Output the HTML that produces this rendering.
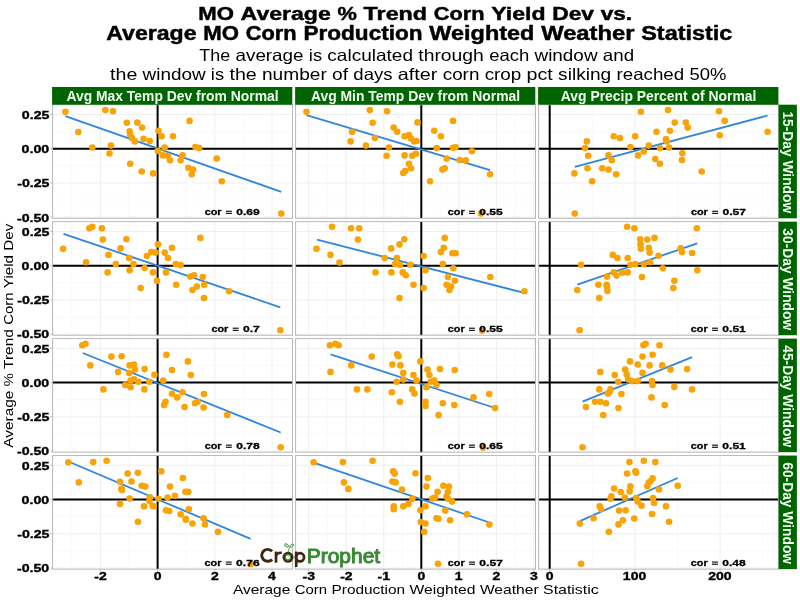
<!DOCTYPE html><html><head><meta charset="utf-8"><style>html,body{margin:0;padding:0;background:#fff;}svg{display:block;will-change:transform;}text{font-family:"Liberation Sans",sans-serif;}</style></head><body>
<svg width="800" height="600" viewBox="0 0 800 600">
<rect x="0" y="0" width="800" height="600" fill="#fff"/>
<g font-size="19.2" font-weight="bold" fill="#000" stroke="#000" stroke-width="0.45"><text x="198.23" y="19.70" textLength="35.67" lengthAdjust="spacingAndGlyphs">MO</text><text x="240.62" y="19.70" textLength="90.19" lengthAdjust="spacingAndGlyphs">Average</text><text x="337.55" y="19.70" textLength="19.37" lengthAdjust="spacingAndGlyphs">%</text><text x="363.64" y="19.70" textLength="63.43" lengthAdjust="spacingAndGlyphs">Trend</text><text x="433.80" y="19.70" textLength="50.76" lengthAdjust="spacingAndGlyphs">Corn</text><text x="491.29" y="19.70" textLength="54.20" lengthAdjust="spacingAndGlyphs">Yield</text><text x="552.22" y="19.70" textLength="41.76" lengthAdjust="spacingAndGlyphs">Dev</text><text x="600.70" y="19.70" textLength="31.45" lengthAdjust="spacingAndGlyphs">vs.</text></g>
<g font-size="19.4" font-weight="bold" fill="#000" stroke="#000" stroke-width="0.45"><text x="106.21" y="40.00" textLength="90.38" lengthAdjust="spacingAndGlyphs">Average</text><text x="203.33" y="40.00" textLength="35.74" lengthAdjust="spacingAndGlyphs">MO</text><text x="245.82" y="40.00" textLength="50.87" lengthAdjust="spacingAndGlyphs">Corn</text><text x="303.42" y="40.00" textLength="119.19" lengthAdjust="spacingAndGlyphs">Production</text><text x="429.36" y="40.00" textLength="105.06" lengthAdjust="spacingAndGlyphs">Weighted</text><text x="541.16" y="40.00" textLength="93.31" lengthAdjust="spacingAndGlyphs">Weather</text><text x="641.22" y="40.00" textLength="91.09" lengthAdjust="spacingAndGlyphs">Statistic</text></g>
<g font-size="16.5" fill="#000"><text x="199.35" y="61.30" textLength="30.89" lengthAdjust="spacingAndGlyphs">The</text><text x="235.52" y="61.30" textLength="68.00" lengthAdjust="spacingAndGlyphs">average</text><text x="308.80" y="61.30" textLength="13.27" lengthAdjust="spacingAndGlyphs">is</text><text x="327.35" y="61.30" textLength="85.65" lengthAdjust="spacingAndGlyphs">calculated</text><text x="418.28" y="61.30" textLength="65.63" lengthAdjust="spacingAndGlyphs">through</text><text x="489.19" y="61.30" textLength="40.06" lengthAdjust="spacingAndGlyphs">each</text><text x="534.53" y="61.30" textLength="63.02" lengthAdjust="spacingAndGlyphs">window</text><text x="602.82" y="61.30" textLength="31.25" lengthAdjust="spacingAndGlyphs">and</text></g>
<g font-size="16.5" fill="#000"><text x="110.05" y="79.50" textLength="27.26" lengthAdjust="spacingAndGlyphs">the</text><text x="142.59" y="79.50" textLength="63.02" lengthAdjust="spacingAndGlyphs">window</text><text x="210.89" y="79.50" textLength="13.27" lengthAdjust="spacingAndGlyphs">is</text><text x="229.44" y="79.50" textLength="27.26" lengthAdjust="spacingAndGlyphs">the</text><text x="261.98" y="79.50" textLength="64.83" lengthAdjust="spacingAndGlyphs">number</text><text x="332.08" y="79.50" textLength="16.01" lengthAdjust="spacingAndGlyphs">of</text><text x="353.37" y="79.50" textLength="39.21" lengthAdjust="spacingAndGlyphs">days</text><text x="397.86" y="79.50" textLength="39.59" lengthAdjust="spacingAndGlyphs">after</text><text x="442.72" y="79.50" textLength="36.65" lengthAdjust="spacingAndGlyphs">corn</text><text x="484.65" y="79.50" textLength="36.67" lengthAdjust="spacingAndGlyphs">crop</text><text x="526.60" y="79.50" textLength="26.19" lengthAdjust="spacingAndGlyphs">pct</text><text x="558.07" y="79.50" textLength="53.19" lengthAdjust="spacingAndGlyphs">silking</text><text x="616.54" y="79.50" textLength="67.65" lengthAdjust="spacingAndGlyphs">reached</text><text x="689.47" y="79.50" textLength="36.92" lengthAdjust="spacingAndGlyphs">50%</text></g>
<g><rect x="52.60" y="104.70" width="239.90" height="113.60" fill="#fff"/><line x1="52.60" x2="292.50" y1="131.57" y2="131.57" stroke="#f7f7f7" stroke-width="0.8"/><line x1="52.60" x2="292.50" y1="165.82" y2="165.82" stroke="#f7f7f7" stroke-width="0.8"/><line x1="52.60" x2="292.50" y1="200.07" y2="200.07" stroke="#f7f7f7" stroke-width="0.8"/><line x1="71.80" x2="71.80" y1="104.70" y2="218.30" stroke="#f7f7f7" stroke-width="0.8"/><line x1="129.00" x2="129.00" y1="104.70" y2="218.30" stroke="#f7f7f7" stroke-width="0.8"/><line x1="186.20" x2="186.20" y1="104.70" y2="218.30" stroke="#f7f7f7" stroke-width="0.8"/><line x1="243.40" x2="243.40" y1="104.70" y2="218.30" stroke="#f7f7f7" stroke-width="0.8"/><line x1="52.60" x2="292.50" y1="114.45" y2="114.45" stroke="#efefef" stroke-width="1"/><line x1="52.60" x2="292.50" y1="148.70" y2="148.70" stroke="#efefef" stroke-width="1"/><line x1="52.60" x2="292.50" y1="182.95" y2="182.95" stroke="#efefef" stroke-width="1"/><line x1="52.60" x2="292.50" y1="217.20" y2="217.20" stroke="#efefef" stroke-width="1"/><line x1="100.40" x2="100.40" y1="104.70" y2="218.30" stroke="#efefef" stroke-width="1"/><line x1="157.60" x2="157.60" y1="104.70" y2="218.30" stroke="#efefef" stroke-width="1"/><line x1="214.80" x2="214.80" y1="104.70" y2="218.30" stroke="#efefef" stroke-width="1"/><line x1="272.00" x2="272.00" y1="104.70" y2="218.30" stroke="#efefef" stroke-width="1"/><line x1="52.60" x2="292.50" y1="148.70" y2="148.70" stroke="#000" stroke-width="2"/><line x1="157.60" x2="157.60" y1="104.70" y2="218.30" stroke="#000" stroke-width="2"/><line x1="65.4" y1="116.1" x2="281.3" y2="191.8" stroke="#2f86dc" stroke-width="1.8"/><circle cx="65.4" cy="111.7" r="3.3" fill="#f8a306"/><circle cx="105.3" cy="110.1" r="3.3" fill="#f8a306"/><circle cx="113" cy="111.3" r="3.3" fill="#f8a306"/><circle cx="78.3" cy="132" r="3.3" fill="#f8a306"/><circle cx="92.3" cy="147.5" r="3.3" fill="#f8a306"/><circle cx="111" cy="145.6" r="3.3" fill="#f8a306"/><circle cx="109.5" cy="153.5" r="3.3" fill="#f8a306"/><circle cx="126.8" cy="122.8" r="3.3" fill="#f8a306"/><circle cx="137.3" cy="122.6" r="3.3" fill="#f8a306"/><circle cx="142.1" cy="127.6" r="3.3" fill="#f8a306"/><circle cx="129.6" cy="131.4" r="3.3" fill="#f8a306"/><circle cx="130.2" cy="134.7" r="3.3" fill="#f8a306"/><circle cx="132.1" cy="138.1" r="3.3" fill="#f8a306"/><circle cx="135" cy="141.4" r="3.3" fill="#f8a306"/><circle cx="143.6" cy="138.9" r="3.3" fill="#f8a306"/><circle cx="149.8" cy="141" r="3.3" fill="#f8a306"/><circle cx="158.4" cy="130.8" r="3.3" fill="#f8a306"/><circle cx="161.6" cy="136.2" r="3.3" fill="#f8a306"/><circle cx="164.7" cy="147.5" r="3.3" fill="#f8a306"/><circle cx="158" cy="151" r="3.3" fill="#f8a306"/><circle cx="162.8" cy="155.4" r="3.3" fill="#f8a306"/><circle cx="168" cy="156.1" r="3.3" fill="#f8a306"/><circle cx="170" cy="160.2" r="3.3" fill="#f8a306"/><circle cx="130.2" cy="163.8" r="3.3" fill="#f8a306"/><circle cx="141.7" cy="171.5" r="3.3" fill="#f8a306"/><circle cx="153.2" cy="173.4" r="3.3" fill="#f8a306"/><circle cx="173" cy="136.2" r="3.3" fill="#f8a306"/><circle cx="189.6" cy="120.9" r="3.3" fill="#f8a306"/><circle cx="195.4" cy="147.1" r="3.3" fill="#f8a306"/><circle cx="199.2" cy="148.1" r="3.3" fill="#f8a306"/><circle cx="182.5" cy="155.4" r="3.3" fill="#f8a306"/><circle cx="180.6" cy="160.2" r="3.3" fill="#f8a306"/><circle cx="188.3" cy="167.8" r="3.3" fill="#f8a306"/><circle cx="193.1" cy="169.6" r="3.3" fill="#f8a306"/><circle cx="191.7" cy="174.3" r="3.3" fill="#f8a306"/><circle cx="216.7" cy="158.6" r="3.3" fill="#f8a306"/><circle cx="221.8" cy="181.2" r="3.3" fill="#f8a306"/><circle cx="281.3" cy="213.6" r="3.3" fill="#f8a306"/><rect x="52.60" y="104.70" width="239.90" height="113.60" fill="none" stroke="#b8b8b8" stroke-width="1"/></g>
<g font-size="9.4" font-weight="bold" fill="#000" stroke="#000" stroke-width="0.3"><text x="204.68" y="215.30" textLength="16.90" lengthAdjust="spacingAndGlyphs">cor</text><rect x="225.90" y="210.71" width="5.97" height="1.09" stroke="none"/><rect x="225.90" y="212.82" width="5.97" height="1.10" stroke="none"/><text x="236.20" y="215.30" textLength="23.51" lengthAdjust="spacingAndGlyphs">0.69</text></g>
<g><rect x="295.60" y="104.70" width="239.90" height="113.60" fill="#fff"/><line x1="295.60" x2="535.50" y1="131.57" y2="131.57" stroke="#f7f7f7" stroke-width="0.8"/><line x1="295.60" x2="535.50" y1="165.82" y2="165.82" stroke="#f7f7f7" stroke-width="0.8"/><line x1="295.60" x2="535.50" y1="200.07" y2="200.07" stroke="#f7f7f7" stroke-width="0.8"/><line x1="327.43" x2="327.43" y1="104.70" y2="218.30" stroke="#f7f7f7" stroke-width="0.8"/><line x1="364.98" x2="364.98" y1="104.70" y2="218.30" stroke="#f7f7f7" stroke-width="0.8"/><line x1="402.53" x2="402.53" y1="104.70" y2="218.30" stroke="#f7f7f7" stroke-width="0.8"/><line x1="440.07" x2="440.07" y1="104.70" y2="218.30" stroke="#f7f7f7" stroke-width="0.8"/><line x1="477.62" x2="477.62" y1="104.70" y2="218.30" stroke="#f7f7f7" stroke-width="0.8"/><line x1="515.17" x2="515.17" y1="104.70" y2="218.30" stroke="#f7f7f7" stroke-width="0.8"/><line x1="295.60" x2="535.50" y1="114.45" y2="114.45" stroke="#efefef" stroke-width="1"/><line x1="295.60" x2="535.50" y1="148.70" y2="148.70" stroke="#efefef" stroke-width="1"/><line x1="295.60" x2="535.50" y1="182.95" y2="182.95" stroke="#efefef" stroke-width="1"/><line x1="295.60" x2="535.50" y1="217.20" y2="217.20" stroke="#efefef" stroke-width="1"/><line x1="308.65" x2="308.65" y1="104.70" y2="218.30" stroke="#efefef" stroke-width="1"/><line x1="346.20" x2="346.20" y1="104.70" y2="218.30" stroke="#efefef" stroke-width="1"/><line x1="383.75" x2="383.75" y1="104.70" y2="218.30" stroke="#efefef" stroke-width="1"/><line x1="421.30" x2="421.30" y1="104.70" y2="218.30" stroke="#efefef" stroke-width="1"/><line x1="458.85" x2="458.85" y1="104.70" y2="218.30" stroke="#efefef" stroke-width="1"/><line x1="496.40" x2="496.40" y1="104.70" y2="218.30" stroke="#efefef" stroke-width="1"/><line x1="533.95" x2="533.95" y1="104.70" y2="218.30" stroke="#efefef" stroke-width="1"/><line x1="295.60" x2="535.50" y1="148.70" y2="148.70" stroke="#000" stroke-width="2"/><line x1="421.30" x2="421.30" y1="104.70" y2="218.30" stroke="#000" stroke-width="2"/><line x1="306.5" y1="115.1" x2="490.1" y2="170.1" stroke="#2f86dc" stroke-width="1.8"/><circle cx="306.5" cy="111.7" r="3.3" fill="#f8a306"/><circle cx="369.8" cy="110.1" r="3.3" fill="#f8a306"/><circle cx="387" cy="111.3" r="3.3" fill="#f8a306"/><circle cx="372.6" cy="122.8" r="3.3" fill="#f8a306"/><circle cx="352.1" cy="131.8" r="3.3" fill="#f8a306"/><circle cx="350.6" cy="141.4" r="3.3" fill="#f8a306"/><circle cx="374.9" cy="138.1" r="3.3" fill="#f8a306"/><circle cx="365.9" cy="145.6" r="3.3" fill="#f8a306"/><circle cx="388.9" cy="147.5" r="3.3" fill="#f8a306"/><circle cx="386.6" cy="155.8" r="3.3" fill="#f8a306"/><circle cx="393.7" cy="127.6" r="3.3" fill="#f8a306"/><circle cx="397.2" cy="131.8" r="3.3" fill="#f8a306"/><circle cx="404.6" cy="136.2" r="3.3" fill="#f8a306"/><circle cx="409" cy="135" r="3.3" fill="#f8a306"/><circle cx="411" cy="138.5" r="3.3" fill="#f8a306"/><circle cx="414.2" cy="141.4" r="3.3" fill="#f8a306"/><circle cx="404.6" cy="155.4" r="3.3" fill="#f8a306"/><circle cx="412.3" cy="155.8" r="3.3" fill="#f8a306"/><circle cx="409" cy="163.8" r="3.3" fill="#f8a306"/><circle cx="411" cy="168.2" r="3.3" fill="#f8a306"/><circle cx="403.3" cy="173" r="3.3" fill="#f8a306"/><circle cx="405.2" cy="171" r="3.3" fill="#f8a306"/><circle cx="417.5" cy="122.4" r="3.3" fill="#f8a306"/><circle cx="416.5" cy="141" r="3.3" fill="#f8a306"/><circle cx="416" cy="153.8" r="3.3" fill="#f8a306"/><circle cx="453" cy="120.9" r="3.3" fill="#f8a306"/><circle cx="434.2" cy="130.8" r="3.3" fill="#f8a306"/><circle cx="440.9" cy="136.2" r="3.3" fill="#f8a306"/><circle cx="436.7" cy="148.1" r="3.3" fill="#f8a306"/><circle cx="453" cy="147.7" r="3.3" fill="#f8a306"/><circle cx="455.6" cy="147.3" r="3.3" fill="#f8a306"/><circle cx="471.9" cy="151.3" r="3.3" fill="#f8a306"/><circle cx="446.6" cy="158.6" r="3.3" fill="#f8a306"/><circle cx="459.7" cy="160" r="3.3" fill="#f8a306"/><circle cx="465.8" cy="160.2" r="3.3" fill="#f8a306"/><circle cx="444.7" cy="168.2" r="3.3" fill="#f8a306"/><circle cx="442.4" cy="169.6" r="3.3" fill="#f8a306"/><circle cx="490.1" cy="174.3" r="3.3" fill="#f8a306"/><circle cx="430" cy="181.2" r="3.3" fill="#f8a306"/><circle cx="481.1" cy="213.6" r="3.3" fill="#f8a306"/><rect x="295.60" y="104.70" width="239.90" height="113.60" fill="none" stroke="#b8b8b8" stroke-width="1"/></g>
<g font-size="9.4" font-weight="bold" fill="#000" stroke="#000" stroke-width="0.3"><text x="447.74" y="215.30" textLength="16.90" lengthAdjust="spacingAndGlyphs">cor</text><rect x="468.96" y="210.71" width="5.97" height="1.09" stroke="none"/><rect x="468.96" y="212.82" width="5.97" height="1.10" stroke="none"/><text x="479.25" y="215.30" textLength="23.51" lengthAdjust="spacingAndGlyphs">0.55</text></g>
<g><rect x="538.60" y="104.70" width="240.00" height="113.60" fill="#fff"/><line x1="538.60" x2="778.60" y1="131.57" y2="131.57" stroke="#f7f7f7" stroke-width="0.8"/><line x1="538.60" x2="778.60" y1="165.82" y2="165.82" stroke="#f7f7f7" stroke-width="0.8"/><line x1="538.60" x2="778.60" y1="200.07" y2="200.07" stroke="#f7f7f7" stroke-width="0.8"/><line x1="592.30" x2="592.30" y1="104.70" y2="218.30" stroke="#f7f7f7" stroke-width="0.8"/><line x1="677.50" x2="677.50" y1="104.70" y2="218.30" stroke="#f7f7f7" stroke-width="0.8"/><line x1="762.70" x2="762.70" y1="104.70" y2="218.30" stroke="#f7f7f7" stroke-width="0.8"/><line x1="538.60" x2="778.60" y1="114.45" y2="114.45" stroke="#efefef" stroke-width="1"/><line x1="538.60" x2="778.60" y1="148.70" y2="148.70" stroke="#efefef" stroke-width="1"/><line x1="538.60" x2="778.60" y1="182.95" y2="182.95" stroke="#efefef" stroke-width="1"/><line x1="538.60" x2="778.60" y1="217.20" y2="217.20" stroke="#efefef" stroke-width="1"/><line x1="549.70" x2="549.70" y1="104.70" y2="218.30" stroke="#efefef" stroke-width="1"/><line x1="634.90" x2="634.90" y1="104.70" y2="218.30" stroke="#efefef" stroke-width="1"/><line x1="720.10" x2="720.10" y1="104.70" y2="218.30" stroke="#efefef" stroke-width="1"/><line x1="538.60" x2="778.60" y1="148.70" y2="148.70" stroke="#000" stroke-width="2"/><line x1="549.70" x2="549.70" y1="104.70" y2="218.30" stroke="#000" stroke-width="2"/><line x1="574.8" y1="166.9" x2="767.6" y2="115.5" stroke="#2f86dc" stroke-width="1.8"/><circle cx="640.9" cy="111.7" r="3.3" fill="#f8a306"/><circle cx="656.5" cy="131.8" r="3.3" fill="#f8a306"/><circle cx="613.7" cy="136.2" r="3.3" fill="#f8a306"/><circle cx="620" cy="138.1" r="3.3" fill="#f8a306"/><circle cx="635.2" cy="136.2" r="3.3" fill="#f8a306"/><circle cx="586.9" cy="141.4" r="3.3" fill="#f8a306"/><circle cx="585" cy="148.1" r="3.3" fill="#f8a306"/><circle cx="630.4" cy="147.1" r="3.3" fill="#f8a306"/><circle cx="648.8" cy="145.6" r="3.3" fill="#f8a306"/><circle cx="588.2" cy="155.8" r="3.3" fill="#f8a306"/><circle cx="608.5" cy="155.4" r="3.3" fill="#f8a306"/><circle cx="611.8" cy="160.2" r="3.3" fill="#f8a306"/><circle cx="638.1" cy="155.4" r="3.3" fill="#f8a306"/><circle cx="643.8" cy="151.5" r="3.3" fill="#f8a306"/><circle cx="655.3" cy="159" r="3.3" fill="#f8a306"/><circle cx="659.9" cy="163.8" r="3.3" fill="#f8a306"/><circle cx="587.5" cy="168.2" r="3.3" fill="#f8a306"/><circle cx="602.2" cy="168.2" r="3.3" fill="#f8a306"/><circle cx="608.5" cy="169.6" r="3.3" fill="#f8a306"/><circle cx="574.4" cy="173.4" r="3.3" fill="#f8a306"/><circle cx="616.2" cy="174.3" r="3.3" fill="#f8a306"/><circle cx="592.1" cy="181.2" r="3.3" fill="#f8a306"/><circle cx="574.8" cy="213.6" r="3.3" fill="#f8a306"/><circle cx="659.9" cy="148.1" r="3.3" fill="#f8a306"/><circle cx="668" cy="110.1" r="3.3" fill="#f8a306"/><circle cx="719" cy="111.3" r="3.3" fill="#f8a306"/><circle cx="674.7" cy="122.6" r="3.3" fill="#f8a306"/><circle cx="685.8" cy="122.6" r="3.3" fill="#f8a306"/><circle cx="687.7" cy="127.6" r="3.3" fill="#f8a306"/><circle cx="724.7" cy="120.9" r="3.3" fill="#f8a306"/><circle cx="669.9" cy="130.8" r="3.3" fill="#f8a306"/><circle cx="767.6" cy="131.8" r="3.3" fill="#f8a306"/><circle cx="719.7" cy="135.2" r="3.3" fill="#f8a306"/><circle cx="666" cy="139.1" r="3.3" fill="#f8a306"/><circle cx="666.6" cy="141.4" r="3.3" fill="#f8a306"/><circle cx="669.1" cy="147.5" r="3.3" fill="#f8a306"/><circle cx="682.3" cy="153.3" r="3.3" fill="#f8a306"/><circle cx="682" cy="160" r="3.3" fill="#f8a306"/><circle cx="701.7" cy="171.5" r="3.3" fill="#f8a306"/><rect x="538.60" y="104.70" width="240.00" height="113.60" fill="none" stroke="#b8b8b8" stroke-width="1"/></g>
<g font-size="9.4" font-weight="bold" fill="#000" stroke="#000" stroke-width="0.3"><text x="690.93" y="215.30" textLength="16.90" lengthAdjust="spacingAndGlyphs">cor</text><rect x="712.15" y="210.71" width="5.97" height="1.09" stroke="none"/><rect x="712.15" y="212.82" width="5.97" height="1.10" stroke="none"/><text x="722.45" y="215.30" textLength="23.51" lengthAdjust="spacingAndGlyphs">0.57</text></g>
<g><rect x="52.60" y="221.65" width="239.90" height="113.60" fill="#fff"/><line x1="52.60" x2="292.50" y1="248.52" y2="248.52" stroke="#f7f7f7" stroke-width="0.8"/><line x1="52.60" x2="292.50" y1="282.77" y2="282.77" stroke="#f7f7f7" stroke-width="0.8"/><line x1="52.60" x2="292.50" y1="317.02" y2="317.02" stroke="#f7f7f7" stroke-width="0.8"/><line x1="71.80" x2="71.80" y1="221.65" y2="335.25" stroke="#f7f7f7" stroke-width="0.8"/><line x1="129.00" x2="129.00" y1="221.65" y2="335.25" stroke="#f7f7f7" stroke-width="0.8"/><line x1="186.20" x2="186.20" y1="221.65" y2="335.25" stroke="#f7f7f7" stroke-width="0.8"/><line x1="243.40" x2="243.40" y1="221.65" y2="335.25" stroke="#f7f7f7" stroke-width="0.8"/><line x1="52.60" x2="292.50" y1="231.40" y2="231.40" stroke="#efefef" stroke-width="1"/><line x1="52.60" x2="292.50" y1="265.65" y2="265.65" stroke="#efefef" stroke-width="1"/><line x1="52.60" x2="292.50" y1="299.90" y2="299.90" stroke="#efefef" stroke-width="1"/><line x1="52.60" x2="292.50" y1="334.15" y2="334.15" stroke="#efefef" stroke-width="1"/><line x1="100.40" x2="100.40" y1="221.65" y2="335.25" stroke="#efefef" stroke-width="1"/><line x1="157.60" x2="157.60" y1="221.65" y2="335.25" stroke="#efefef" stroke-width="1"/><line x1="214.80" x2="214.80" y1="221.65" y2="335.25" stroke="#efefef" stroke-width="1"/><line x1="272.00" x2="272.00" y1="221.65" y2="335.25" stroke="#efefef" stroke-width="1"/><line x1="52.60" x2="292.50" y1="265.65" y2="265.65" stroke="#000" stroke-width="2"/><line x1="157.60" x2="157.60" y1="221.65" y2="335.25" stroke="#000" stroke-width="2"/><line x1="63.5" y1="233.8" x2="280.3" y2="307.3" stroke="#2f86dc" stroke-width="1.8"/><circle cx="89.4" cy="228.3" r="3.3" fill="#f8a306"/><circle cx="92.3" cy="226.8" r="3.3" fill="#f8a306"/><circle cx="101.8" cy="228.3" r="3.3" fill="#f8a306"/><circle cx="63.1" cy="248.8" r="3.3" fill="#f8a306"/><circle cx="86.1" cy="262.2" r="3.3" fill="#f8a306"/><circle cx="102.8" cy="239.6" r="3.3" fill="#f8a306"/><circle cx="126.4" cy="239.2" r="3.3" fill="#f8a306"/><circle cx="120.6" cy="248.4" r="3.3" fill="#f8a306"/><circle cx="108.5" cy="254.9" r="3.3" fill="#f8a306"/><circle cx="129.1" cy="258" r="3.3" fill="#f8a306"/><circle cx="115.8" cy="264.1" r="3.3" fill="#f8a306"/><circle cx="133.5" cy="264.1" r="3.3" fill="#f8a306"/><circle cx="129.6" cy="270.3" r="3.3" fill="#f8a306"/><circle cx="107.6" cy="272.4" r="3.3" fill="#f8a306"/><circle cx="144.6" cy="268" r="3.3" fill="#f8a306"/><circle cx="146.9" cy="256.1" r="3.3" fill="#f8a306"/><circle cx="151.3" cy="252.1" r="3.3" fill="#f8a306"/><circle cx="155.5" cy="252.6" r="3.3" fill="#f8a306"/><circle cx="158" cy="244.4" r="3.3" fill="#f8a306"/><circle cx="164.7" cy="252.6" r="3.3" fill="#f8a306"/><circle cx="168" cy="258" r="3.3" fill="#f8a306"/><circle cx="172" cy="247.8" r="3.3" fill="#f8a306"/><circle cx="153" cy="272.4" r="3.3" fill="#f8a306"/><circle cx="166" cy="272.4" r="3.3" fill="#f8a306"/><circle cx="157" cy="280.8" r="3.3" fill="#f8a306"/><circle cx="140.7" cy="288.1" r="3.3" fill="#f8a306"/><circle cx="200.4" cy="237.9" r="3.3" fill="#f8a306"/><circle cx="175.8" cy="264.1" r="3.3" fill="#f8a306"/><circle cx="180.6" cy="265.1" r="3.3" fill="#f8a306"/><circle cx="190.2" cy="276.6" r="3.3" fill="#f8a306"/><circle cx="194" cy="275.2" r="3.3" fill="#f8a306"/><circle cx="202.7" cy="277" r="3.3" fill="#f8a306"/><circle cx="176.2" cy="284.8" r="3.3" fill="#f8a306"/><circle cx="196.9" cy="286.6" r="3.3" fill="#f8a306"/><circle cx="192.5" cy="290" r="3.3" fill="#f8a306"/><circle cx="204.2" cy="284.8" r="3.3" fill="#f8a306"/><circle cx="229.1" cy="291.3" r="3.3" fill="#f8a306"/><circle cx="204" cy="298.1" r="3.3" fill="#f8a306"/><circle cx="280.3" cy="330.3" r="3.3" fill="#f8a306"/><rect x="52.60" y="221.65" width="239.90" height="113.60" fill="none" stroke="#b8b8b8" stroke-width="1"/></g>
<g font-size="9.4" font-weight="bold" fill="#000" stroke="#000" stroke-width="0.3"><text x="211.46" y="332.25" textLength="16.90" lengthAdjust="spacingAndGlyphs">cor</text><rect x="232.68" y="327.66" width="5.97" height="1.09" stroke="none"/><rect x="232.68" y="329.77" width="5.97" height="1.10" stroke="none"/><text x="242.98" y="332.25" textLength="16.88" lengthAdjust="spacingAndGlyphs">0.7</text></g>
<g><rect x="295.60" y="221.65" width="239.90" height="113.60" fill="#fff"/><line x1="295.60" x2="535.50" y1="248.52" y2="248.52" stroke="#f7f7f7" stroke-width="0.8"/><line x1="295.60" x2="535.50" y1="282.77" y2="282.77" stroke="#f7f7f7" stroke-width="0.8"/><line x1="295.60" x2="535.50" y1="317.02" y2="317.02" stroke="#f7f7f7" stroke-width="0.8"/><line x1="327.43" x2="327.43" y1="221.65" y2="335.25" stroke="#f7f7f7" stroke-width="0.8"/><line x1="364.98" x2="364.98" y1="221.65" y2="335.25" stroke="#f7f7f7" stroke-width="0.8"/><line x1="402.53" x2="402.53" y1="221.65" y2="335.25" stroke="#f7f7f7" stroke-width="0.8"/><line x1="440.07" x2="440.07" y1="221.65" y2="335.25" stroke="#f7f7f7" stroke-width="0.8"/><line x1="477.62" x2="477.62" y1="221.65" y2="335.25" stroke="#f7f7f7" stroke-width="0.8"/><line x1="515.17" x2="515.17" y1="221.65" y2="335.25" stroke="#f7f7f7" stroke-width="0.8"/><line x1="295.60" x2="535.50" y1="231.40" y2="231.40" stroke="#efefef" stroke-width="1"/><line x1="295.60" x2="535.50" y1="265.65" y2="265.65" stroke="#efefef" stroke-width="1"/><line x1="295.60" x2="535.50" y1="299.90" y2="299.90" stroke="#efefef" stroke-width="1"/><line x1="295.60" x2="535.50" y1="334.15" y2="334.15" stroke="#efefef" stroke-width="1"/><line x1="308.65" x2="308.65" y1="221.65" y2="335.25" stroke="#efefef" stroke-width="1"/><line x1="346.20" x2="346.20" y1="221.65" y2="335.25" stroke="#efefef" stroke-width="1"/><line x1="383.75" x2="383.75" y1="221.65" y2="335.25" stroke="#efefef" stroke-width="1"/><line x1="421.30" x2="421.30" y1="221.65" y2="335.25" stroke="#efefef" stroke-width="1"/><line x1="458.85" x2="458.85" y1="221.65" y2="335.25" stroke="#efefef" stroke-width="1"/><line x1="496.40" x2="496.40" y1="221.65" y2="335.25" stroke="#efefef" stroke-width="1"/><line x1="533.95" x2="533.95" y1="221.65" y2="335.25" stroke="#efefef" stroke-width="1"/><line x1="295.60" x2="535.50" y1="265.65" y2="265.65" stroke="#000" stroke-width="2"/><line x1="421.30" x2="421.30" y1="221.65" y2="335.25" stroke="#000" stroke-width="2"/><line x1="317" y1="239.6" x2="524.3" y2="292.9" stroke="#2f86dc" stroke-width="1.8"/><circle cx="332" cy="226.8" r="3.3" fill="#f8a306"/><circle cx="351" cy="228.3" r="3.3" fill="#f8a306"/><circle cx="359.2" cy="228.3" r="3.3" fill="#f8a306"/><circle cx="357.9" cy="239.6" r="3.3" fill="#f8a306"/><circle cx="316.5" cy="248.8" r="3.3" fill="#f8a306"/><circle cx="330.5" cy="254.9" r="3.3" fill="#f8a306"/><circle cx="339.5" cy="262.6" r="3.3" fill="#f8a306"/><circle cx="375.5" cy="272.4" r="3.3" fill="#f8a306"/><circle cx="384.7" cy="258" r="3.3" fill="#f8a306"/><circle cx="391.2" cy="248.4" r="3.3" fill="#f8a306"/><circle cx="399.5" cy="244.4" r="3.3" fill="#f8a306"/><circle cx="404.3" cy="239.2" r="3.3" fill="#f8a306"/><circle cx="397" cy="258" r="3.3" fill="#f8a306"/><circle cx="395.1" cy="264.1" r="3.3" fill="#f8a306"/><circle cx="400" cy="264.7" r="3.3" fill="#f8a306"/><circle cx="410.4" cy="264.7" r="3.3" fill="#f8a306"/><circle cx="391.4" cy="272.4" r="3.3" fill="#f8a306"/><circle cx="402.7" cy="272.4" r="3.3" fill="#f8a306"/><circle cx="405.8" cy="275.2" r="3.3" fill="#f8a306"/><circle cx="413.5" cy="284.8" r="3.3" fill="#f8a306"/><circle cx="399.5" cy="298.1" r="3.3" fill="#f8a306"/><circle cx="444.7" cy="237.9" r="3.3" fill="#f8a306"/><circle cx="443.8" cy="247.8" r="3.3" fill="#f8a306"/><circle cx="440.9" cy="252.1" r="3.3" fill="#f8a306"/><circle cx="452.4" cy="253.2" r="3.3" fill="#f8a306"/><circle cx="455.6" cy="253.2" r="3.3" fill="#f8a306"/><circle cx="423.6" cy="256.1" r="3.3" fill="#f8a306"/><circle cx="442.8" cy="264.1" r="3.3" fill="#f8a306"/><circle cx="453.3" cy="268.3" r="3.3" fill="#f8a306"/><circle cx="425.5" cy="270.3" r="3.3" fill="#f8a306"/><circle cx="448" cy="277" r="3.3" fill="#f8a306"/><circle cx="454.9" cy="280.8" r="3.3" fill="#f8a306"/><circle cx="446.6" cy="284.8" r="3.3" fill="#f8a306"/><circle cx="451" cy="286.6" r="3.3" fill="#f8a306"/><circle cx="449.5" cy="290" r="3.3" fill="#f8a306"/><circle cx="423.6" cy="288.1" r="3.3" fill="#f8a306"/><circle cx="490.3" cy="277" r="3.3" fill="#f8a306"/><circle cx="524.3" cy="291.3" r="3.3" fill="#f8a306"/><circle cx="482.1" cy="330.6" r="3.3" fill="#f8a306"/><rect x="295.60" y="221.65" width="239.90" height="113.60" fill="none" stroke="#b8b8b8" stroke-width="1"/></g>
<g font-size="9.4" font-weight="bold" fill="#000" stroke="#000" stroke-width="0.3"><text x="447.74" y="332.25" textLength="16.90" lengthAdjust="spacingAndGlyphs">cor</text><rect x="468.96" y="327.66" width="5.97" height="1.09" stroke="none"/><rect x="468.96" y="329.77" width="5.97" height="1.10" stroke="none"/><text x="479.25" y="332.25" textLength="23.51" lengthAdjust="spacingAndGlyphs">0.55</text></g>
<g><rect x="538.60" y="221.65" width="240.00" height="113.60" fill="#fff"/><line x1="538.60" x2="778.60" y1="248.52" y2="248.52" stroke="#f7f7f7" stroke-width="0.8"/><line x1="538.60" x2="778.60" y1="282.77" y2="282.77" stroke="#f7f7f7" stroke-width="0.8"/><line x1="538.60" x2="778.60" y1="317.02" y2="317.02" stroke="#f7f7f7" stroke-width="0.8"/><line x1="592.30" x2="592.30" y1="221.65" y2="335.25" stroke="#f7f7f7" stroke-width="0.8"/><line x1="677.50" x2="677.50" y1="221.65" y2="335.25" stroke="#f7f7f7" stroke-width="0.8"/><line x1="762.70" x2="762.70" y1="221.65" y2="335.25" stroke="#f7f7f7" stroke-width="0.8"/><line x1="538.60" x2="778.60" y1="231.40" y2="231.40" stroke="#efefef" stroke-width="1"/><line x1="538.60" x2="778.60" y1="265.65" y2="265.65" stroke="#efefef" stroke-width="1"/><line x1="538.60" x2="778.60" y1="299.90" y2="299.90" stroke="#efefef" stroke-width="1"/><line x1="538.60" x2="778.60" y1="334.15" y2="334.15" stroke="#efefef" stroke-width="1"/><line x1="549.70" x2="549.70" y1="221.65" y2="335.25" stroke="#efefef" stroke-width="1"/><line x1="634.90" x2="634.90" y1="221.65" y2="335.25" stroke="#efefef" stroke-width="1"/><line x1="720.10" x2="720.10" y1="221.65" y2="335.25" stroke="#efefef" stroke-width="1"/><line x1="538.60" x2="778.60" y1="265.65" y2="265.65" stroke="#000" stroke-width="2"/><line x1="549.70" x2="549.70" y1="221.65" y2="335.25" stroke="#000" stroke-width="2"/><line x1="577.3" y1="284.6" x2="697.3" y2="243.4" stroke="#2f86dc" stroke-width="1.8"/><circle cx="627.1" cy="226.8" r="3.3" fill="#f8a306"/><circle cx="634.4" cy="228.3" r="3.3" fill="#f8a306"/><circle cx="640.2" cy="239.2" r="3.3" fill="#f8a306"/><circle cx="647.3" cy="239.6" r="3.3" fill="#f8a306"/><circle cx="654.5" cy="237.9" r="3.3" fill="#f8a306"/><circle cx="640.5" cy="244.4" r="3.3" fill="#f8a306"/><circle cx="640.9" cy="248.8" r="3.3" fill="#f8a306"/><circle cx="648.8" cy="247.8" r="3.3" fill="#f8a306"/><circle cx="649.6" cy="252.6" r="3.3" fill="#f8a306"/><circle cx="658.5" cy="255.8" r="3.3" fill="#f8a306"/><circle cx="612.8" cy="254.9" r="3.3" fill="#f8a306"/><circle cx="617.5" cy="258" r="3.3" fill="#f8a306"/><circle cx="627.7" cy="258" r="3.3" fill="#f8a306"/><circle cx="581.1" cy="264.7" r="3.3" fill="#f8a306"/><circle cx="630.6" cy="264.7" r="3.3" fill="#f8a306"/><circle cx="635.4" cy="264.1" r="3.3" fill="#f8a306"/><circle cx="643.8" cy="264.1" r="3.3" fill="#f8a306"/><circle cx="650.1" cy="262.2" r="3.3" fill="#f8a306"/><circle cx="613.7" cy="272.4" r="3.3" fill="#f8a306"/><circle cx="616.6" cy="275.6" r="3.3" fill="#f8a306"/><circle cx="622.3" cy="272.8" r="3.3" fill="#f8a306"/><circle cx="627.7" cy="272.4" r="3.3" fill="#f8a306"/><circle cx="607" cy="276.6" r="3.3" fill="#f8a306"/><circle cx="641.9" cy="277" r="3.3" fill="#f8a306"/><circle cx="598.4" cy="284.8" r="3.3" fill="#f8a306"/><circle cx="606.6" cy="284.8" r="3.3" fill="#f8a306"/><circle cx="607" cy="286.6" r="3.3" fill="#f8a306"/><circle cx="607.4" cy="291" r="3.3" fill="#f8a306"/><circle cx="577.3" cy="290" r="3.3" fill="#f8a306"/><circle cx="599.3" cy="298.1" r="3.3" fill="#f8a306"/><circle cx="579.6" cy="330.3" r="3.3" fill="#f8a306"/><circle cx="696.9" cy="228.3" r="3.3" fill="#f8a306"/><circle cx="680.6" cy="248.4" r="3.3" fill="#f8a306"/><circle cx="682" cy="252.1" r="3.3" fill="#f8a306"/><circle cx="692.1" cy="253" r="3.3" fill="#f8a306"/><circle cx="662.8" cy="268.3" r="3.3" fill="#f8a306"/><circle cx="697.3" cy="270.3" r="3.3" fill="#f8a306"/><circle cx="674.3" cy="280.8" r="3.3" fill="#f8a306"/><circle cx="673.3" cy="288.1" r="3.3" fill="#f8a306"/><rect x="538.60" y="221.65" width="240.00" height="113.60" fill="none" stroke="#b8b8b8" stroke-width="1"/></g>
<g font-size="9.4" font-weight="bold" fill="#000" stroke="#000" stroke-width="0.3"><text x="690.83" y="332.25" textLength="16.90" lengthAdjust="spacingAndGlyphs">cor</text><rect x="712.05" y="327.66" width="5.97" height="1.09" stroke="none"/><rect x="712.05" y="329.77" width="5.97" height="1.10" stroke="none"/><text x="722.34" y="332.25" textLength="23.51" lengthAdjust="spacingAndGlyphs">0.51</text></g>
<g><rect x="52.60" y="338.60" width="239.90" height="113.60" fill="#fff"/><line x1="52.60" x2="292.50" y1="365.47" y2="365.47" stroke="#f7f7f7" stroke-width="0.8"/><line x1="52.60" x2="292.50" y1="399.72" y2="399.72" stroke="#f7f7f7" stroke-width="0.8"/><line x1="52.60" x2="292.50" y1="433.97" y2="433.97" stroke="#f7f7f7" stroke-width="0.8"/><line x1="71.80" x2="71.80" y1="338.60" y2="452.20" stroke="#f7f7f7" stroke-width="0.8"/><line x1="129.00" x2="129.00" y1="338.60" y2="452.20" stroke="#f7f7f7" stroke-width="0.8"/><line x1="186.20" x2="186.20" y1="338.60" y2="452.20" stroke="#f7f7f7" stroke-width="0.8"/><line x1="243.40" x2="243.40" y1="338.60" y2="452.20" stroke="#f7f7f7" stroke-width="0.8"/><line x1="52.60" x2="292.50" y1="348.35" y2="348.35" stroke="#efefef" stroke-width="1"/><line x1="52.60" x2="292.50" y1="382.60" y2="382.60" stroke="#efefef" stroke-width="1"/><line x1="52.60" x2="292.50" y1="416.85" y2="416.85" stroke="#efefef" stroke-width="1"/><line x1="52.60" x2="292.50" y1="451.10" y2="451.10" stroke="#efefef" stroke-width="1"/><line x1="100.40" x2="100.40" y1="338.60" y2="452.20" stroke="#efefef" stroke-width="1"/><line x1="157.60" x2="157.60" y1="338.60" y2="452.20" stroke="#efefef" stroke-width="1"/><line x1="214.80" x2="214.80" y1="338.60" y2="452.20" stroke="#efefef" stroke-width="1"/><line x1="272.00" x2="272.00" y1="338.60" y2="452.20" stroke="#efefef" stroke-width="1"/><line x1="52.60" x2="292.50" y1="382.60" y2="382.60" stroke="#000" stroke-width="2"/><line x1="157.60" x2="157.60" y1="338.60" y2="452.20" stroke="#000" stroke-width="2"/><line x1="82.7" y1="353" x2="280.7" y2="432.5" stroke="#2f86dc" stroke-width="1.8"/><circle cx="82.3" cy="345.3" r="3.3" fill="#f8a306"/><circle cx="85.5" cy="343.8" r="3.3" fill="#f8a306"/><circle cx="111.4" cy="356.6" r="3.3" fill="#f8a306"/><circle cx="121.6" cy="356.2" r="3.3" fill="#f8a306"/><circle cx="90.3" cy="365.4" r="3.3" fill="#f8a306"/><circle cx="129.6" cy="365.4" r="3.3" fill="#f8a306"/><circle cx="134" cy="364.5" r="3.3" fill="#f8a306"/><circle cx="135" cy="369.6" r="3.3" fill="#f8a306"/><circle cx="144.6" cy="369.1" r="3.3" fill="#f8a306"/><circle cx="118.1" cy="371.9" r="3.3" fill="#f8a306"/><circle cx="129.2" cy="373.1" r="3.3" fill="#f8a306"/><circle cx="154.5" cy="374.8" r="3.3" fill="#f8a306"/><circle cx="130.6" cy="380.6" r="3.3" fill="#f8a306"/><circle cx="134" cy="379.2" r="3.3" fill="#f8a306"/><circle cx="138.3" cy="381.7" r="3.3" fill="#f8a306"/><circle cx="149.4" cy="381.7" r="3.3" fill="#f8a306"/><circle cx="125.2" cy="385" r="3.3" fill="#f8a306"/><circle cx="130.6" cy="387.3" r="3.3" fill="#f8a306"/><circle cx="103.4" cy="389.4" r="3.3" fill="#f8a306"/><circle cx="144.4" cy="389.4" r="3.3" fill="#f8a306"/><circle cx="163.2" cy="380.6" r="3.3" fill="#f8a306"/><circle cx="166.4" cy="354.9" r="3.3" fill="#f8a306"/><circle cx="172" cy="370" r="3.3" fill="#f8a306"/><circle cx="172" cy="393.8" r="3.3" fill="#f8a306"/><circle cx="165.5" cy="401.8" r="3.3" fill="#f8a306"/><circle cx="164.1" cy="405.1" r="3.3" fill="#f8a306"/><circle cx="187.9" cy="361.4" r="3.3" fill="#f8a306"/><circle cx="190.8" cy="375" r="3.3" fill="#f8a306"/><circle cx="177.2" cy="397.4" r="3.3" fill="#f8a306"/><circle cx="182.5" cy="392.2" r="3.3" fill="#f8a306"/><circle cx="204" cy="394" r="3.3" fill="#f8a306"/><circle cx="184.5" cy="407" r="3.3" fill="#f8a306"/><circle cx="195" cy="403.2" r="3.3" fill="#f8a306"/><circle cx="197.5" cy="401.8" r="3.3" fill="#f8a306"/><circle cx="203.6" cy="407.6" r="3.3" fill="#f8a306"/><circle cx="227.2" cy="415.1" r="3.3" fill="#f8a306"/><circle cx="280.7" cy="447.3" r="3.3" fill="#f8a306"/><rect x="52.60" y="338.60" width="239.90" height="113.60" fill="none" stroke="#b8b8b8" stroke-width="1"/></g>
<g font-size="9.4" font-weight="bold" fill="#000" stroke="#000" stroke-width="0.3"><text x="204.66" y="449.20" textLength="16.90" lengthAdjust="spacingAndGlyphs">cor</text><rect x="225.88" y="444.61" width="5.97" height="1.09" stroke="none"/><rect x="225.88" y="446.72" width="5.97" height="1.10" stroke="none"/><text x="236.18" y="449.20" textLength="23.51" lengthAdjust="spacingAndGlyphs">0.78</text></g>
<g><rect x="295.60" y="338.60" width="239.90" height="113.60" fill="#fff"/><line x1="295.60" x2="535.50" y1="365.47" y2="365.47" stroke="#f7f7f7" stroke-width="0.8"/><line x1="295.60" x2="535.50" y1="399.72" y2="399.72" stroke="#f7f7f7" stroke-width="0.8"/><line x1="295.60" x2="535.50" y1="433.97" y2="433.97" stroke="#f7f7f7" stroke-width="0.8"/><line x1="327.43" x2="327.43" y1="338.60" y2="452.20" stroke="#f7f7f7" stroke-width="0.8"/><line x1="364.98" x2="364.98" y1="338.60" y2="452.20" stroke="#f7f7f7" stroke-width="0.8"/><line x1="402.53" x2="402.53" y1="338.60" y2="452.20" stroke="#f7f7f7" stroke-width="0.8"/><line x1="440.07" x2="440.07" y1="338.60" y2="452.20" stroke="#f7f7f7" stroke-width="0.8"/><line x1="477.62" x2="477.62" y1="338.60" y2="452.20" stroke="#f7f7f7" stroke-width="0.8"/><line x1="515.17" x2="515.17" y1="338.60" y2="452.20" stroke="#f7f7f7" stroke-width="0.8"/><line x1="295.60" x2="535.50" y1="348.35" y2="348.35" stroke="#efefef" stroke-width="1"/><line x1="295.60" x2="535.50" y1="382.60" y2="382.60" stroke="#efefef" stroke-width="1"/><line x1="295.60" x2="535.50" y1="416.85" y2="416.85" stroke="#efefef" stroke-width="1"/><line x1="295.60" x2="535.50" y1="451.10" y2="451.10" stroke="#efefef" stroke-width="1"/><line x1="308.65" x2="308.65" y1="338.60" y2="452.20" stroke="#efefef" stroke-width="1"/><line x1="346.20" x2="346.20" y1="338.60" y2="452.20" stroke="#efefef" stroke-width="1"/><line x1="383.75" x2="383.75" y1="338.60" y2="452.20" stroke="#efefef" stroke-width="1"/><line x1="421.30" x2="421.30" y1="338.60" y2="452.20" stroke="#efefef" stroke-width="1"/><line x1="458.85" x2="458.85" y1="338.60" y2="452.20" stroke="#efefef" stroke-width="1"/><line x1="496.40" x2="496.40" y1="338.60" y2="452.20" stroke="#efefef" stroke-width="1"/><line x1="533.95" x2="533.95" y1="338.60" y2="452.20" stroke="#efefef" stroke-width="1"/><line x1="295.60" x2="535.50" y1="382.60" y2="382.60" stroke="#000" stroke-width="2"/><line x1="421.30" x2="421.30" y1="338.60" y2="452.20" stroke="#000" stroke-width="2"/><line x1="330.5" y1="354.3" x2="495.1" y2="408" stroke="#2f86dc" stroke-width="1.8"/><circle cx="329.9" cy="345.3" r="3.3" fill="#f8a306"/><circle cx="335.3" cy="343.8" r="3.3" fill="#f8a306"/><circle cx="338.7" cy="345.3" r="3.3" fill="#f8a306"/><circle cx="371.7" cy="356.6" r="3.3" fill="#f8a306"/><circle cx="397.2" cy="354.3" r="3.3" fill="#f8a306"/><circle cx="398.5" cy="356.2" r="3.3" fill="#f8a306"/><circle cx="351.2" cy="365.4" r="3.3" fill="#f8a306"/><circle cx="392.4" cy="364.5" r="3.3" fill="#f8a306"/><circle cx="400.4" cy="365.4" r="3.3" fill="#f8a306"/><circle cx="330.5" cy="371.9" r="3.3" fill="#f8a306"/><circle cx="403.3" cy="372.9" r="3.3" fill="#f8a306"/><circle cx="413.5" cy="375" r="3.3" fill="#f8a306"/><circle cx="403.3" cy="379.6" r="3.3" fill="#f8a306"/><circle cx="396.6" cy="381.7" r="3.3" fill="#f8a306"/><circle cx="356.9" cy="389.4" r="3.3" fill="#f8a306"/><circle cx="367.3" cy="389.4" r="3.3" fill="#f8a306"/><circle cx="391.8" cy="392.2" r="3.3" fill="#f8a306"/><circle cx="412.3" cy="389.4" r="3.3" fill="#f8a306"/><circle cx="414.5" cy="393.6" r="3.3" fill="#f8a306"/><circle cx="399.9" cy="401.8" r="3.3" fill="#f8a306"/><circle cx="420.4" cy="361.4" r="3.3" fill="#f8a306"/><circle cx="427.5" cy="369.6" r="3.3" fill="#f8a306"/><circle cx="439.9" cy="369.1" r="3.3" fill="#f8a306"/><circle cx="454.7" cy="370" r="3.3" fill="#f8a306"/><circle cx="429.4" cy="375" r="3.3" fill="#f8a306"/><circle cx="416.5" cy="380.6" r="3.3" fill="#f8a306"/><circle cx="430.7" cy="381.7" r="3.3" fill="#f8a306"/><circle cx="434.2" cy="380.6" r="3.3" fill="#f8a306"/><circle cx="436.5" cy="385" r="3.3" fill="#f8a306"/><circle cx="426.5" cy="387.3" r="3.3" fill="#f8a306"/><circle cx="425.5" cy="401.8" r="3.3" fill="#f8a306"/><circle cx="425.5" cy="406" r="3.3" fill="#f8a306"/><circle cx="442.8" cy="403.2" r="3.3" fill="#f8a306"/><circle cx="454.3" cy="405.1" r="3.3" fill="#f8a306"/><circle cx="473.5" cy="397.4" r="3.3" fill="#f8a306"/><circle cx="489.2" cy="394" r="3.3" fill="#f8a306"/><circle cx="495.1" cy="408" r="3.3" fill="#f8a306"/><circle cx="438.6" cy="415.1" r="3.3" fill="#f8a306"/><circle cx="483" cy="447.6" r="3.3" fill="#f8a306"/><rect x="295.60" y="338.60" width="239.90" height="113.60" fill="none" stroke="#b8b8b8" stroke-width="1"/></g>
<g font-size="9.4" font-weight="bold" fill="#000" stroke="#000" stroke-width="0.3"><text x="447.74" y="449.20" textLength="16.90" lengthAdjust="spacingAndGlyphs">cor</text><rect x="468.96" y="444.61" width="5.97" height="1.09" stroke="none"/><rect x="468.96" y="446.72" width="5.97" height="1.10" stroke="none"/><text x="479.25" y="449.20" textLength="23.51" lengthAdjust="spacingAndGlyphs">0.65</text></g>
<g><rect x="538.60" y="338.60" width="240.00" height="113.60" fill="#fff"/><line x1="538.60" x2="778.60" y1="365.47" y2="365.47" stroke="#f7f7f7" stroke-width="0.8"/><line x1="538.60" x2="778.60" y1="399.72" y2="399.72" stroke="#f7f7f7" stroke-width="0.8"/><line x1="538.60" x2="778.60" y1="433.97" y2="433.97" stroke="#f7f7f7" stroke-width="0.8"/><line x1="592.30" x2="592.30" y1="338.60" y2="452.20" stroke="#f7f7f7" stroke-width="0.8"/><line x1="677.50" x2="677.50" y1="338.60" y2="452.20" stroke="#f7f7f7" stroke-width="0.8"/><line x1="762.70" x2="762.70" y1="338.60" y2="452.20" stroke="#f7f7f7" stroke-width="0.8"/><line x1="538.60" x2="778.60" y1="348.35" y2="348.35" stroke="#efefef" stroke-width="1"/><line x1="538.60" x2="778.60" y1="382.60" y2="382.60" stroke="#efefef" stroke-width="1"/><line x1="538.60" x2="778.60" y1="416.85" y2="416.85" stroke="#efefef" stroke-width="1"/><line x1="538.60" x2="778.60" y1="451.10" y2="451.10" stroke="#efefef" stroke-width="1"/><line x1="549.70" x2="549.70" y1="338.60" y2="452.20" stroke="#efefef" stroke-width="1"/><line x1="634.90" x2="634.90" y1="338.60" y2="452.20" stroke="#efefef" stroke-width="1"/><line x1="720.10" x2="720.10" y1="338.60" y2="452.20" stroke="#efefef" stroke-width="1"/><line x1="538.60" x2="778.60" y1="382.60" y2="382.60" stroke="#000" stroke-width="2"/><line x1="549.70" x2="549.70" y1="338.60" y2="452.20" stroke="#000" stroke-width="2"/><line x1="582.5" y1="401.6" x2="692.1" y2="357.2" stroke="#2f86dc" stroke-width="1.8"/><circle cx="643.4" cy="345.3" r="3.3" fill="#f8a306"/><circle cx="645.7" cy="343.8" r="3.3" fill="#f8a306"/><circle cx="659.5" cy="345.2" r="3.3" fill="#f8a306"/><circle cx="642.5" cy="356.6" r="3.3" fill="#f8a306"/><circle cx="652.6" cy="354.7" r="3.3" fill="#f8a306"/><circle cx="630" cy="361.4" r="3.3" fill="#f8a306"/><circle cx="637.7" cy="364.5" r="3.3" fill="#f8a306"/><circle cx="649.6" cy="365.4" r="3.3" fill="#f8a306"/><circle cx="600.3" cy="371.9" r="3.3" fill="#f8a306"/><circle cx="625.2" cy="369.6" r="3.3" fill="#f8a306"/><circle cx="626.7" cy="374.4" r="3.3" fill="#f8a306"/><circle cx="642.5" cy="372.9" r="3.3" fill="#f8a306"/><circle cx="614.7" cy="375" r="3.3" fill="#f8a306"/><circle cx="628.1" cy="379.2" r="3.3" fill="#f8a306"/><circle cx="631.9" cy="381.1" r="3.3" fill="#f8a306"/><circle cx="637.7" cy="381.1" r="3.3" fill="#f8a306"/><circle cx="618.1" cy="381.7" r="3.3" fill="#f8a306"/><circle cx="652" cy="381.1" r="3.3" fill="#f8a306"/><circle cx="652.6" cy="385" r="3.3" fill="#f8a306"/><circle cx="599.3" cy="389.4" r="3.3" fill="#f8a306"/><circle cx="610.5" cy="389.4" r="3.3" fill="#f8a306"/><circle cx="609.3" cy="392.2" r="3.3" fill="#f8a306"/><circle cx="608" cy="393.6" r="3.3" fill="#f8a306"/><circle cx="621.4" cy="394" r="3.3" fill="#f8a306"/><circle cx="651.5" cy="397.4" r="3.3" fill="#f8a306"/><circle cx="595.1" cy="401.8" r="3.3" fill="#f8a306"/><circle cx="600.3" cy="401.8" r="3.3" fill="#f8a306"/><circle cx="606" cy="403.2" r="3.3" fill="#f8a306"/><circle cx="585.9" cy="407" r="3.3" fill="#f8a306"/><circle cx="618.5" cy="408" r="3.3" fill="#f8a306"/><circle cx="603.2" cy="415.1" r="3.3" fill="#f8a306"/><circle cx="582.5" cy="447.3" r="3.3" fill="#f8a306"/><circle cx="662.2" cy="365.4" r="3.3" fill="#f8a306"/><circle cx="670.5" cy="369.6" r="3.3" fill="#f8a306"/><circle cx="687.1" cy="369.1" r="3.3" fill="#f8a306"/><circle cx="674.3" cy="386.9" r="3.3" fill="#f8a306"/><circle cx="692.1" cy="389.4" r="3.3" fill="#f8a306"/><circle cx="664.7" cy="405.1" r="3.3" fill="#f8a306"/><rect x="538.60" y="338.60" width="240.00" height="113.60" fill="none" stroke="#b8b8b8" stroke-width="1"/></g>
<g font-size="9.4" font-weight="bold" fill="#000" stroke="#000" stroke-width="0.3"><text x="690.83" y="449.20" textLength="16.90" lengthAdjust="spacingAndGlyphs">cor</text><rect x="712.05" y="444.61" width="5.97" height="1.09" stroke="none"/><rect x="712.05" y="446.72" width="5.97" height="1.10" stroke="none"/><text x="722.34" y="449.20" textLength="23.51" lengthAdjust="spacingAndGlyphs">0.51</text></g>
<g><rect x="52.60" y="455.55" width="239.90" height="113.60" fill="#fff"/><line x1="52.60" x2="292.50" y1="482.42" y2="482.42" stroke="#f7f7f7" stroke-width="0.8"/><line x1="52.60" x2="292.50" y1="516.67" y2="516.67" stroke="#f7f7f7" stroke-width="0.8"/><line x1="52.60" x2="292.50" y1="550.92" y2="550.92" stroke="#f7f7f7" stroke-width="0.8"/><line x1="71.80" x2="71.80" y1="455.55" y2="569.15" stroke="#f7f7f7" stroke-width="0.8"/><line x1="129.00" x2="129.00" y1="455.55" y2="569.15" stroke="#f7f7f7" stroke-width="0.8"/><line x1="186.20" x2="186.20" y1="455.55" y2="569.15" stroke="#f7f7f7" stroke-width="0.8"/><line x1="243.40" x2="243.40" y1="455.55" y2="569.15" stroke="#f7f7f7" stroke-width="0.8"/><line x1="52.60" x2="292.50" y1="465.30" y2="465.30" stroke="#efefef" stroke-width="1"/><line x1="52.60" x2="292.50" y1="499.55" y2="499.55" stroke="#efefef" stroke-width="1"/><line x1="52.60" x2="292.50" y1="533.80" y2="533.80" stroke="#efefef" stroke-width="1"/><line x1="52.60" x2="292.50" y1="568.05" y2="568.05" stroke="#efefef" stroke-width="1"/><line x1="100.40" x2="100.40" y1="455.55" y2="569.15" stroke="#efefef" stroke-width="1"/><line x1="157.60" x2="157.60" y1="455.55" y2="569.15" stroke="#efefef" stroke-width="1"/><line x1="214.80" x2="214.80" y1="455.55" y2="569.15" stroke="#efefef" stroke-width="1"/><line x1="272.00" x2="272.00" y1="455.55" y2="569.15" stroke="#efefef" stroke-width="1"/><line x1="52.60" x2="292.50" y1="499.55" y2="499.55" stroke="#000" stroke-width="2"/><line x1="157.60" x2="157.60" y1="455.55" y2="569.15" stroke="#000" stroke-width="2"/><line x1="68.3" y1="461.5" x2="250.6" y2="538.8" stroke="#2f86dc" stroke-width="1.8"/><circle cx="68.3" cy="462.3" r="3.3" fill="#f8a306"/><circle cx="93.2" cy="462.1" r="3.3" fill="#f8a306"/><circle cx="106.6" cy="460.8" r="3.3" fill="#f8a306"/><circle cx="78.8" cy="482.4" r="3.3" fill="#f8a306"/><circle cx="127.7" cy="473.6" r="3.3" fill="#f8a306"/><circle cx="137.9" cy="472.8" r="3.3" fill="#f8a306"/><circle cx="161.3" cy="471.3" r="3.3" fill="#f8a306"/><circle cx="120" cy="481.8" r="3.3" fill="#f8a306"/><circle cx="131.5" cy="481.5" r="3.3" fill="#f8a306"/><circle cx="121.4" cy="488.9" r="3.3" fill="#f8a306"/><circle cx="122" cy="489.9" r="3.3" fill="#f8a306"/><circle cx="141.7" cy="485.7" r="3.3" fill="#f8a306"/><circle cx="145.3" cy="486.6" r="3.3" fill="#f8a306"/><circle cx="170" cy="486.6" r="3.3" fill="#f8a306"/><circle cx="129.6" cy="498.5" r="3.3" fill="#f8a306"/><circle cx="149.8" cy="497.2" r="3.3" fill="#f8a306"/><circle cx="149.4" cy="501" r="3.3" fill="#f8a306"/><circle cx="158.4" cy="498.7" r="3.3" fill="#f8a306"/><circle cx="167.6" cy="497.6" r="3.3" fill="#f8a306"/><circle cx="120" cy="503.9" r="3.3" fill="#f8a306"/><circle cx="144" cy="506.4" r="3.3" fill="#f8a306"/><circle cx="152.6" cy="505.8" r="3.3" fill="#f8a306"/><circle cx="153.6" cy="506.4" r="3.3" fill="#f8a306"/><circle cx="166" cy="510.2" r="3.3" fill="#f8a306"/><circle cx="169.3" cy="511" r="3.3" fill="#f8a306"/><circle cx="137.9" cy="521.7" r="3.3" fill="#f8a306"/><circle cx="182.9" cy="478" r="3.3" fill="#f8a306"/><circle cx="185.4" cy="491.8" r="3.3" fill="#f8a306"/><circle cx="188.3" cy="491.8" r="3.3" fill="#f8a306"/><circle cx="174.9" cy="495.8" r="3.3" fill="#f8a306"/><circle cx="188.9" cy="509.2" r="3.3" fill="#f8a306"/><circle cx="180.6" cy="514.4" r="3.3" fill="#f8a306"/><circle cx="185.8" cy="518.8" r="3.3" fill="#f8a306"/><circle cx="185.8" cy="519.8" r="3.3" fill="#f8a306"/><circle cx="192.5" cy="523.6" r="3.3" fill="#f8a306"/><circle cx="203.6" cy="518.3" r="3.3" fill="#f8a306"/><circle cx="205" cy="524.4" r="3.3" fill="#f8a306"/><circle cx="218" cy="531.7" r="3.3" fill="#f8a306"/><circle cx="250.6" cy="564.3" r="3.3" fill="#f8a306"/><rect x="52.60" y="455.55" width="239.90" height="113.60" fill="none" stroke="#b8b8b8" stroke-width="1"/></g>
<g font-size="9.4" font-weight="bold" fill="#000" stroke="#000" stroke-width="0.3"><text x="204.58" y="566.15" textLength="16.90" lengthAdjust="spacingAndGlyphs">cor</text><rect x="225.81" y="561.56" width="5.97" height="1.09" stroke="none"/><rect x="225.81" y="563.67" width="5.97" height="1.10" stroke="none"/><text x="236.10" y="566.15" textLength="23.51" lengthAdjust="spacingAndGlyphs">0.76</text></g>
<g><rect x="295.60" y="455.55" width="239.90" height="113.60" fill="#fff"/><line x1="295.60" x2="535.50" y1="482.42" y2="482.42" stroke="#f7f7f7" stroke-width="0.8"/><line x1="295.60" x2="535.50" y1="516.67" y2="516.67" stroke="#f7f7f7" stroke-width="0.8"/><line x1="295.60" x2="535.50" y1="550.92" y2="550.92" stroke="#f7f7f7" stroke-width="0.8"/><line x1="327.43" x2="327.43" y1="455.55" y2="569.15" stroke="#f7f7f7" stroke-width="0.8"/><line x1="364.98" x2="364.98" y1="455.55" y2="569.15" stroke="#f7f7f7" stroke-width="0.8"/><line x1="402.53" x2="402.53" y1="455.55" y2="569.15" stroke="#f7f7f7" stroke-width="0.8"/><line x1="440.07" x2="440.07" y1="455.55" y2="569.15" stroke="#f7f7f7" stroke-width="0.8"/><line x1="477.62" x2="477.62" y1="455.55" y2="569.15" stroke="#f7f7f7" stroke-width="0.8"/><line x1="515.17" x2="515.17" y1="455.55" y2="569.15" stroke="#f7f7f7" stroke-width="0.8"/><line x1="295.60" x2="535.50" y1="465.30" y2="465.30" stroke="#efefef" stroke-width="1"/><line x1="295.60" x2="535.50" y1="499.55" y2="499.55" stroke="#efefef" stroke-width="1"/><line x1="295.60" x2="535.50" y1="533.80" y2="533.80" stroke="#efefef" stroke-width="1"/><line x1="295.60" x2="535.50" y1="568.05" y2="568.05" stroke="#efefef" stroke-width="1"/><line x1="308.65" x2="308.65" y1="455.55" y2="569.15" stroke="#efefef" stroke-width="1"/><line x1="346.20" x2="346.20" y1="455.55" y2="569.15" stroke="#efefef" stroke-width="1"/><line x1="383.75" x2="383.75" y1="455.55" y2="569.15" stroke="#efefef" stroke-width="1"/><line x1="421.30" x2="421.30" y1="455.55" y2="569.15" stroke="#efefef" stroke-width="1"/><line x1="458.85" x2="458.85" y1="455.55" y2="569.15" stroke="#efefef" stroke-width="1"/><line x1="496.40" x2="496.40" y1="455.55" y2="569.15" stroke="#efefef" stroke-width="1"/><line x1="533.95" x2="533.95" y1="455.55" y2="569.15" stroke="#efefef" stroke-width="1"/><line x1="295.60" x2="535.50" y1="499.55" y2="499.55" stroke="#000" stroke-width="2"/><line x1="421.30" x2="421.30" y1="455.55" y2="569.15" stroke="#000" stroke-width="2"/><line x1="313.6" y1="462.7" x2="489.4" y2="522.5" stroke="#2f86dc" stroke-width="1.8"/><circle cx="313.6" cy="462.3" r="3.3" fill="#f8a306"/><circle cx="342.9" cy="462.1" r="3.3" fill="#f8a306"/><circle cx="372.6" cy="460.8" r="3.3" fill="#f8a306"/><circle cx="393.1" cy="471.3" r="3.3" fill="#f8a306"/><circle cx="394.7" cy="473.6" r="3.3" fill="#f8a306"/><circle cx="343.9" cy="482.4" r="3.3" fill="#f8a306"/><circle cx="348.3" cy="488.9" r="3.3" fill="#f8a306"/><circle cx="392.4" cy="481.5" r="3.3" fill="#f8a306"/><circle cx="395.6" cy="482.4" r="3.3" fill="#f8a306"/><circle cx="402" cy="489.5" r="3.3" fill="#f8a306"/><circle cx="415.5" cy="473.2" r="3.3" fill="#f8a306"/><circle cx="412.3" cy="498.7" r="3.3" fill="#f8a306"/><circle cx="393.7" cy="506.4" r="3.3" fill="#f8a306"/><circle cx="393.7" cy="509.2" r="3.3" fill="#f8a306"/><circle cx="403.3" cy="506.4" r="3.3" fill="#f8a306"/><circle cx="408.5" cy="503.9" r="3.3" fill="#f8a306"/><circle cx="427.8" cy="478" r="3.3" fill="#f8a306"/><circle cx="426.5" cy="486.6" r="3.3" fill="#f8a306"/><circle cx="443.4" cy="485.7" r="3.3" fill="#f8a306"/><circle cx="448.9" cy="486.6" r="3.3" fill="#f8a306"/><circle cx="437.6" cy="491.8" r="3.3" fill="#f8a306"/><circle cx="448" cy="491.8" r="3.3" fill="#f8a306"/><circle cx="446.6" cy="496.2" r="3.3" fill="#f8a306"/><circle cx="432.3" cy="498.5" r="3.3" fill="#f8a306"/><circle cx="435.1" cy="497.6" r="3.3" fill="#f8a306"/><circle cx="448" cy="498.7" r="3.3" fill="#f8a306"/><circle cx="452" cy="501.6" r="3.3" fill="#f8a306"/><circle cx="425.5" cy="506.2" r="3.3" fill="#f8a306"/><circle cx="420.4" cy="510.2" r="3.3" fill="#f8a306"/><circle cx="445.3" cy="510.6" r="3.3" fill="#f8a306"/><circle cx="467.1" cy="514.4" r="3.3" fill="#f8a306"/><circle cx="436.5" cy="518.3" r="3.3" fill="#f8a306"/><circle cx="438.4" cy="518.8" r="3.3" fill="#f8a306"/><circle cx="450.1" cy="520.2" r="3.3" fill="#f8a306"/><circle cx="420.8" cy="522.1" r="3.3" fill="#f8a306"/><circle cx="425.5" cy="523.6" r="3.3" fill="#f8a306"/><circle cx="489.4" cy="524.6" r="3.3" fill="#f8a306"/><circle cx="424.2" cy="531.7" r="3.3" fill="#f8a306"/><circle cx="438" cy="563.7" r="3.3" fill="#f8a306"/><rect x="295.60" y="455.55" width="239.90" height="113.60" fill="none" stroke="#b8b8b8" stroke-width="1"/></g>
<g font-size="9.4" font-weight="bold" fill="#000" stroke="#000" stroke-width="0.3"><text x="447.83" y="566.15" textLength="16.90" lengthAdjust="spacingAndGlyphs">cor</text><rect x="469.05" y="561.56" width="5.97" height="1.09" stroke="none"/><rect x="469.05" y="563.67" width="5.97" height="1.10" stroke="none"/><text x="479.35" y="566.15" textLength="23.51" lengthAdjust="spacingAndGlyphs">0.57</text></g>
<g><rect x="538.60" y="455.55" width="240.00" height="113.60" fill="#fff"/><line x1="538.60" x2="778.60" y1="482.42" y2="482.42" stroke="#f7f7f7" stroke-width="0.8"/><line x1="538.60" x2="778.60" y1="516.67" y2="516.67" stroke="#f7f7f7" stroke-width="0.8"/><line x1="538.60" x2="778.60" y1="550.92" y2="550.92" stroke="#f7f7f7" stroke-width="0.8"/><line x1="592.30" x2="592.30" y1="455.55" y2="569.15" stroke="#f7f7f7" stroke-width="0.8"/><line x1="677.50" x2="677.50" y1="455.55" y2="569.15" stroke="#f7f7f7" stroke-width="0.8"/><line x1="762.70" x2="762.70" y1="455.55" y2="569.15" stroke="#f7f7f7" stroke-width="0.8"/><line x1="538.60" x2="778.60" y1="465.30" y2="465.30" stroke="#efefef" stroke-width="1"/><line x1="538.60" x2="778.60" y1="499.55" y2="499.55" stroke="#efefef" stroke-width="1"/><line x1="538.60" x2="778.60" y1="533.80" y2="533.80" stroke="#efefef" stroke-width="1"/><line x1="538.60" x2="778.60" y1="568.05" y2="568.05" stroke="#efefef" stroke-width="1"/><line x1="549.70" x2="549.70" y1="455.55" y2="569.15" stroke="#efefef" stroke-width="1"/><line x1="634.90" x2="634.90" y1="455.55" y2="569.15" stroke="#efefef" stroke-width="1"/><line x1="720.10" x2="720.10" y1="455.55" y2="569.15" stroke="#efefef" stroke-width="1"/><line x1="538.60" x2="778.60" y1="499.55" y2="499.55" stroke="#000" stroke-width="2"/><line x1="549.70" x2="549.70" y1="455.55" y2="569.15" stroke="#000" stroke-width="2"/><line x1="579.8" y1="521.1" x2="677.7" y2="478" stroke="#2f86dc" stroke-width="1.8"/><circle cx="629.4" cy="462.1" r="3.3" fill="#f8a306"/><circle cx="643.8" cy="460.8" r="3.3" fill="#f8a306"/><circle cx="655.3" cy="462.1" r="3.3" fill="#f8a306"/><circle cx="627.1" cy="473.6" r="3.3" fill="#f8a306"/><circle cx="635.4" cy="471.3" r="3.3" fill="#f8a306"/><circle cx="636.1" cy="472.8" r="3.3" fill="#f8a306"/><circle cx="652.6" cy="478.4" r="3.3" fill="#f8a306"/><circle cx="650.1" cy="481.5" r="3.3" fill="#f8a306"/><circle cx="648.8" cy="482.8" r="3.3" fill="#f8a306"/><circle cx="647.3" cy="486.2" r="3.3" fill="#f8a306"/><circle cx="659" cy="489.5" r="3.3" fill="#f8a306"/><circle cx="614.1" cy="488.5" r="3.3" fill="#f8a306"/><circle cx="630.4" cy="486.2" r="3.3" fill="#f8a306"/><circle cx="629.6" cy="491.4" r="3.3" fill="#f8a306"/><circle cx="620.8" cy="492" r="3.3" fill="#f8a306"/><circle cx="611.4" cy="496.2" r="3.3" fill="#f8a306"/><circle cx="610.5" cy="498.7" r="3.3" fill="#f8a306"/><circle cx="624.8" cy="497.6" r="3.3" fill="#f8a306"/><circle cx="636.1" cy="498.1" r="3.3" fill="#f8a306"/><circle cx="637.7" cy="501.6" r="3.3" fill="#f8a306"/><circle cx="641.5" cy="505.8" r="3.3" fill="#f8a306"/><circle cx="653" cy="498.1" r="3.3" fill="#f8a306"/><circle cx="654" cy="502.9" r="3.3" fill="#f8a306"/><circle cx="599.7" cy="506.2" r="3.3" fill="#f8a306"/><circle cx="600.9" cy="509.1" r="3.3" fill="#f8a306"/><circle cx="619.1" cy="510.6" r="3.3" fill="#f8a306"/><circle cx="625.6" cy="510.2" r="3.3" fill="#f8a306"/><circle cx="652" cy="514" r="3.3" fill="#f8a306"/><circle cx="593.6" cy="518.3" r="3.3" fill="#f8a306"/><circle cx="634.2" cy="518.6" r="3.3" fill="#f8a306"/><circle cx="622.9" cy="520.2" r="3.3" fill="#f8a306"/><circle cx="618.5" cy="524.4" r="3.3" fill="#f8a306"/><circle cx="579.8" cy="523.6" r="3.3" fill="#f8a306"/><circle cx="608.9" cy="531.7" r="3.3" fill="#f8a306"/><circle cx="581.1" cy="563.7" r="3.3" fill="#f8a306"/><circle cx="677.7" cy="485.7" r="3.3" fill="#f8a306"/><circle cx="666" cy="506.2" r="3.3" fill="#f8a306"/><circle cx="669.1" cy="521.7" r="3.3" fill="#f8a306"/><rect x="538.60" y="455.55" width="240.00" height="113.60" fill="none" stroke="#b8b8b8" stroke-width="1"/></g>
<g font-size="9.4" font-weight="bold" fill="#000" stroke="#000" stroke-width="0.3"><text x="690.76" y="566.15" textLength="16.90" lengthAdjust="spacingAndGlyphs">cor</text><rect x="711.98" y="561.56" width="5.97" height="1.09" stroke="none"/><rect x="711.98" y="563.67" width="5.97" height="1.10" stroke="none"/><text x="722.28" y="566.15" textLength="23.51" lengthAdjust="spacingAndGlyphs">0.48</text></g>
<line x1="50.3" x2="52.6" y1="114.45" y2="114.45" stroke="#b8b8b8" stroke-width="1"/>
<g font-size="11.0" font-weight="bold" fill="#000" stroke="#000" stroke-width="0.35"><text x="21.85" y="118.75" textLength="27.63" lengthAdjust="spacingAndGlyphs">0.25</text></g>
<line x1="50.3" x2="52.6" y1="148.70" y2="148.70" stroke="#b8b8b8" stroke-width="1"/>
<g font-size="11.0" font-weight="bold" fill="#000" stroke="#000" stroke-width="0.35"><text x="21.60" y="153.00" textLength="27.63" lengthAdjust="spacingAndGlyphs">0.00</text></g>
<line x1="50.3" x2="52.6" y1="182.95" y2="182.95" stroke="#b8b8b8" stroke-width="1"/>
<g font-size="11.0" font-weight="bold" fill="#000" stroke="#000" stroke-width="0.35"><text x="17.20" y="187.25" textLength="32.28" lengthAdjust="spacingAndGlyphs">-0.25</text></g>
<line x1="50.3" x2="52.6" y1="217.20" y2="217.20" stroke="#b8b8b8" stroke-width="1"/>
<g font-size="11.0" font-weight="bold" fill="#000" stroke="#000" stroke-width="0.35"><text x="16.95" y="221.50" textLength="32.28" lengthAdjust="spacingAndGlyphs">-0.50</text></g>
<line x1="50.3" x2="52.6" y1="231.40" y2="231.40" stroke="#b8b8b8" stroke-width="1"/>
<g font-size="11.0" font-weight="bold" fill="#000" stroke="#000" stroke-width="0.35"><text x="21.85" y="235.70" textLength="27.63" lengthAdjust="spacingAndGlyphs">0.25</text></g>
<line x1="50.3" x2="52.6" y1="265.65" y2="265.65" stroke="#b8b8b8" stroke-width="1"/>
<g font-size="11.0" font-weight="bold" fill="#000" stroke="#000" stroke-width="0.35"><text x="21.60" y="269.95" textLength="27.63" lengthAdjust="spacingAndGlyphs">0.00</text></g>
<line x1="50.3" x2="52.6" y1="299.90" y2="299.90" stroke="#b8b8b8" stroke-width="1"/>
<g font-size="11.0" font-weight="bold" fill="#000" stroke="#000" stroke-width="0.35"><text x="17.20" y="304.20" textLength="32.28" lengthAdjust="spacingAndGlyphs">-0.25</text></g>
<line x1="50.3" x2="52.6" y1="334.15" y2="334.15" stroke="#b8b8b8" stroke-width="1"/>
<g font-size="11.0" font-weight="bold" fill="#000" stroke="#000" stroke-width="0.35"><text x="16.95" y="338.45" textLength="32.28" lengthAdjust="spacingAndGlyphs">-0.50</text></g>
<line x1="50.3" x2="52.6" y1="348.35" y2="348.35" stroke="#b8b8b8" stroke-width="1"/>
<g font-size="11.0" font-weight="bold" fill="#000" stroke="#000" stroke-width="0.35"><text x="21.85" y="352.65" textLength="27.63" lengthAdjust="spacingAndGlyphs">0.25</text></g>
<line x1="50.3" x2="52.6" y1="382.60" y2="382.60" stroke="#b8b8b8" stroke-width="1"/>
<g font-size="11.0" font-weight="bold" fill="#000" stroke="#000" stroke-width="0.35"><text x="21.60" y="386.90" textLength="27.63" lengthAdjust="spacingAndGlyphs">0.00</text></g>
<line x1="50.3" x2="52.6" y1="416.85" y2="416.85" stroke="#b8b8b8" stroke-width="1"/>
<g font-size="11.0" font-weight="bold" fill="#000" stroke="#000" stroke-width="0.35"><text x="17.20" y="421.15" textLength="32.28" lengthAdjust="spacingAndGlyphs">-0.25</text></g>
<line x1="50.3" x2="52.6" y1="451.10" y2="451.10" stroke="#b8b8b8" stroke-width="1"/>
<g font-size="11.0" font-weight="bold" fill="#000" stroke="#000" stroke-width="0.35"><text x="16.95" y="455.40" textLength="32.28" lengthAdjust="spacingAndGlyphs">-0.50</text></g>
<line x1="50.3" x2="52.6" y1="465.30" y2="465.30" stroke="#b8b8b8" stroke-width="1"/>
<g font-size="11.0" font-weight="bold" fill="#000" stroke="#000" stroke-width="0.35"><text x="21.85" y="469.60" textLength="27.63" lengthAdjust="spacingAndGlyphs">0.25</text></g>
<line x1="50.3" x2="52.6" y1="499.55" y2="499.55" stroke="#b8b8b8" stroke-width="1"/>
<g font-size="11.0" font-weight="bold" fill="#000" stroke="#000" stroke-width="0.35"><text x="21.60" y="503.85" textLength="27.63" lengthAdjust="spacingAndGlyphs">0.00</text></g>
<line x1="50.3" x2="52.6" y1="533.80" y2="533.80" stroke="#b8b8b8" stroke-width="1"/>
<g font-size="11.0" font-weight="bold" fill="#000" stroke="#000" stroke-width="0.35"><text x="17.20" y="538.10" textLength="32.28" lengthAdjust="spacingAndGlyphs">-0.25</text></g>
<line x1="50.3" x2="52.6" y1="568.05" y2="568.05" stroke="#b8b8b8" stroke-width="1"/>
<g font-size="11.0" font-weight="bold" fill="#000" stroke="#000" stroke-width="0.35"><text x="16.95" y="572.35" textLength="32.28" lengthAdjust="spacingAndGlyphs">-0.50</text></g>
<line x1="100.40" x2="100.40" y1="569.15" y2="571.45" stroke="#b8b8b8" stroke-width="1"/>
<g font-size="11.0" font-weight="bold" fill="#000" stroke="#000" stroke-width="0.35"><text x="94.36" y="580.00" textLength="12.44" lengthAdjust="spacingAndGlyphs">-2</text></g>
<line x1="157.60" x2="157.60" y1="569.15" y2="571.45" stroke="#b8b8b8" stroke-width="1"/>
<g font-size="11.0" font-weight="bold" fill="#000" stroke="#000" stroke-width="0.35"><text x="153.70" y="580.00" textLength="7.79" lengthAdjust="spacingAndGlyphs">0</text></g>
<line x1="214.80" x2="214.80" y1="569.15" y2="571.45" stroke="#b8b8b8" stroke-width="1"/>
<g font-size="11.0" font-weight="bold" fill="#000" stroke="#000" stroke-width="0.35"><text x="210.95" y="580.00" textLength="7.79" lengthAdjust="spacingAndGlyphs">2</text></g>
<line x1="272.00" x2="272.00" y1="569.15" y2="571.45" stroke="#b8b8b8" stroke-width="1"/>
<g font-size="11.0" font-weight="bold" fill="#000" stroke="#000" stroke-width="0.35"><text x="268.11" y="580.00" textLength="7.79" lengthAdjust="spacingAndGlyphs">4</text></g>
<line x1="308.65" x2="308.65" y1="569.15" y2="571.45" stroke="#b8b8b8" stroke-width="1"/>
<g font-size="11.0" font-weight="bold" fill="#000" stroke="#000" stroke-width="0.35"><text x="302.57" y="580.00" textLength="12.44" lengthAdjust="spacingAndGlyphs">-3</text></g>
<line x1="346.20" x2="346.20" y1="569.15" y2="571.45" stroke="#b8b8b8" stroke-width="1"/>
<g font-size="11.0" font-weight="bold" fill="#000" stroke="#000" stroke-width="0.35"><text x="340.16" y="580.00" textLength="12.44" lengthAdjust="spacingAndGlyphs">-2</text></g>
<line x1="383.75" x2="383.75" y1="569.15" y2="571.45" stroke="#b8b8b8" stroke-width="1"/>
<g font-size="11.0" font-weight="bold" fill="#000" stroke="#000" stroke-width="0.35"><text x="377.61" y="580.00" textLength="12.44" lengthAdjust="spacingAndGlyphs">-1</text></g>
<line x1="421.30" x2="421.30" y1="569.15" y2="571.45" stroke="#b8b8b8" stroke-width="1"/>
<g font-size="11.0" font-weight="bold" fill="#000" stroke="#000" stroke-width="0.35"><text x="417.40" y="580.00" textLength="7.79" lengthAdjust="spacingAndGlyphs">0</text></g>
<line x1="458.85" x2="458.85" y1="569.15" y2="571.45" stroke="#b8b8b8" stroke-width="1"/>
<g font-size="11.0" font-weight="bold" fill="#000" stroke="#000" stroke-width="0.35"><text x="454.71" y="580.00" textLength="7.79" lengthAdjust="spacingAndGlyphs">1</text></g>
<line x1="496.40" x2="496.40" y1="569.15" y2="571.45" stroke="#b8b8b8" stroke-width="1"/>
<g font-size="11.0" font-weight="bold" fill="#000" stroke="#000" stroke-width="0.35"><text x="492.55" y="580.00" textLength="7.79" lengthAdjust="spacingAndGlyphs">2</text></g>
<line x1="533.95" x2="533.95" y1="569.15" y2="571.45" stroke="#b8b8b8" stroke-width="1"/>
<g font-size="11.0" font-weight="bold" fill="#000" stroke="#000" stroke-width="0.35"><text x="530.12" y="580.00" textLength="7.79" lengthAdjust="spacingAndGlyphs">3</text></g>
<line x1="549.70" x2="549.70" y1="569.15" y2="571.45" stroke="#b8b8b8" stroke-width="1"/>
<g font-size="11.0" font-weight="bold" fill="#000" stroke="#000" stroke-width="0.35"><text x="545.80" y="580.00" textLength="7.79" lengthAdjust="spacingAndGlyphs">0</text></g>
<line x1="634.90" x2="634.90" y1="569.15" y2="571.45" stroke="#b8b8b8" stroke-width="1"/>
<g font-size="11.0" font-weight="bold" fill="#000" stroke="#000" stroke-width="0.35"><text x="622.85" y="580.00" textLength="23.38" lengthAdjust="spacingAndGlyphs">100</text></g>
<line x1="720.10" x2="720.10" y1="569.15" y2="571.45" stroke="#b8b8b8" stroke-width="1"/>
<g font-size="11.0" font-weight="bold" fill="#000" stroke="#000" stroke-width="0.35"><text x="708.24" y="580.00" textLength="23.38" lengthAdjust="spacingAndGlyphs">200</text></g>
<rect x="52.10" y="87.0" width="240.20" height="17.7" fill="#006400"/>
<rect x="295.10" y="87.0" width="240.20" height="17.7" fill="#006400"/>
<rect x="538.10" y="87.0" width="240.30" height="17.7" fill="#006400"/>
<text x="172.55" y="101.0" font-size="13.9" font-weight="bold" text-anchor="middle" fill="#f0fff0">Avg Max Temp Dev from Normal</text>
<text x="415.55" y="101.0" font-size="13.9" font-weight="bold" text-anchor="middle" fill="#f0fff0">Avg Min Temp Dev from Normal</text>
<text x="658.60" y="101.0" font-size="13.9" font-weight="bold" text-anchor="middle" fill="#f0fff0">Avg Precip Percent of Normal</text>
<rect x="778.6" y="104.70" width="18.3" height="113.60" fill="#006400"/>
<text x="0" y="0" font-size="13.8" font-weight="bold" text-anchor="middle" fill="#f0fff0" transform="translate(783.3,162.30) rotate(90)">15-Day Window</text>
<rect x="778.6" y="221.65" width="18.3" height="113.60" fill="#006400"/>
<text x="0" y="0" font-size="13.8" font-weight="bold" text-anchor="middle" fill="#f0fff0" transform="translate(783.3,279.25) rotate(90)">30-Day Window</text>
<rect x="778.6" y="338.60" width="18.3" height="113.60" fill="#006400"/>
<text x="0" y="0" font-size="13.8" font-weight="bold" text-anchor="middle" fill="#f0fff0" transform="translate(783.3,396.20) rotate(90)">45-Day Window</text>
<rect x="778.6" y="455.55" width="18.3" height="113.60" fill="#006400"/>
<text x="0" y="0" font-size="13.8" font-weight="bold" text-anchor="middle" fill="#f0fff0" transform="translate(783.3,513.15) rotate(90)">60-Day Window</text>
<g font-size="13.6" fill="#000"><text x="232.99" y="593.75" textLength="57.31" lengthAdjust="spacingAndGlyphs">Average</text><text x="294.68" y="593.75" textLength="32.40" lengthAdjust="spacingAndGlyphs">Corn</text><text x="331.46" y="593.75" textLength="73.75" lengthAdjust="spacingAndGlyphs">Production</text><text x="409.58" y="593.75" textLength="65.94" lengthAdjust="spacingAndGlyphs">Weighted</text><text x="479.90" y="593.75" textLength="58.74" lengthAdjust="spacingAndGlyphs">Weather</text><text x="543.02" y="593.75" textLength="55.73" lengthAdjust="spacingAndGlyphs">Statistic</text></g>
<g font-size="13.6" fill="#000" transform="translate(12.9,447.6) rotate(-90)"><text x="-0.11" y="0.00" textLength="57.06" lengthAdjust="spacingAndGlyphs">Average</text><text x="61.31" y="0.00" textLength="13.02" lengthAdjust="spacingAndGlyphs">%</text><text x="78.68" y="0.00" textLength="39.81" lengthAdjust="spacingAndGlyphs">Trend</text><text x="122.85" y="0.00" textLength="32.26" lengthAdjust="spacingAndGlyphs">Corn</text><text x="159.46" y="0.00" textLength="33.11" lengthAdjust="spacingAndGlyphs">Yield</text><text x="196.92" y="0.00" textLength="27.09" lengthAdjust="spacingAndGlyphs">Dev</text></g>
<g>
<path d="M272.1,551.3 A6.0,5.95 0 1 0 272.1,559.4" fill="none" stroke="#3d2612" stroke-width="2.9"/>
<path d="M276.0,551.6 V562.7" stroke="#3d2612" stroke-width="2.7" fill="none"/>
<path d="M276.0,556.2 Q276.6,552.6 281.8,552.8" stroke="#3d2612" stroke-width="2.5" fill="none"/>
<circle cx="288.0" cy="557.3" r="4.2" fill="#fff" stroke="#3d2612" stroke-width="2.7"/>
<circle cx="288.0" cy="557.3" r="2.6" fill="#fff" stroke="#3b8a35" stroke-width="1.2"/>
<path d="M288.2,552.6 Q288.6,549.5 290.0,546.6" stroke="#3b8a35" stroke-width="0.9" fill="none"/>
<ellipse cx="286.6" cy="545.4" rx="2.1" ry="1.2" transform="rotate(30 286.6 545.4)" fill="none" stroke="#3b8a35" stroke-width="0.9"/>
<ellipse cx="291.9" cy="545.6" rx="2.0" ry="1.2" transform="rotate(-35 291.9 545.6)" fill="none" stroke="#3b8a35" stroke-width="0.9"/>
<path d="M296.2,551.6 V567.0" stroke="#3d2612" stroke-width="2.7" fill="none"/>
<circle cx="300.0" cy="557.3" r="4.1" fill="none" stroke="#3d2612" stroke-width="2.7"/>
<text x="306.8" y="562.5" font-size="19.6" fill="#3b8a35" stroke="#3b8a35" stroke-width="1.0" textLength="73.3" lengthAdjust="spacingAndGlyphs">Prophet</text>
</g>
</svg></body></html>
